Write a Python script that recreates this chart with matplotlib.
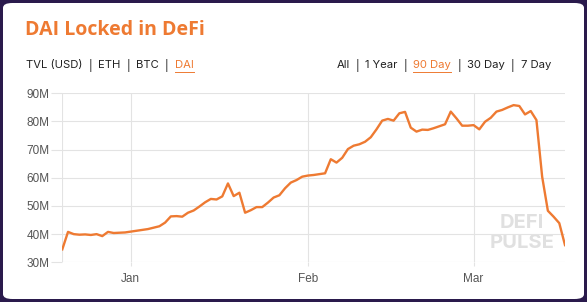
import matplotlib.pyplot as plt
import matplotlib.dates as mdates
from matplotlib.patches import FancyBboxPatch
import pandas as pd

# daily DAI locked (millions), 2019-12-20 .. 2020-03-17
start = '2019-12-20'
dai = [34.6, 40.8, 40.0, 39.8, 39.9, 39.7, 40.0, 39.3, 40.8, 40.4,
       40.5, 40.6, 40.9, 41.2, 41.5, 41.8, 42.3, 42.8, 44.1, 46.3,
       46.4, 46.2, 47.6, 48.4, 49.8, 51.3, 52.5, 52.3, 53.4, 58.0,
       53.5, 54.7, 47.6, 48.5, 49.6, 49.6, 51.2, 53.0, 53.8, 56.3,
       58.3, 59.2, 60.4, 60.8, 61.0, 61.3, 61.6, 66.6, 65.4, 67.1,
       70.2, 71.4, 71.9, 72.8, 74.4, 77.2, 80.3, 80.9, 80.3, 82.9,
       83.4, 77.8, 76.4, 77.1, 77.0, 77.6, 78.3, 79.0, 83.5, 81.1,
       78.5, 78.5, 78.7, 77.2, 79.9, 81.3, 83.5, 84.1, 85.0, 85.8,
       85.5, 82.5, 83.7, 80.5, 60.4, 48.3, 46.2, 43.9, 36.1]
dates = pd.date_range(start, periods=len(dai), freq='D')

y_ticks = [30, 40, 50, 60, 70, 80, 90]
left_links = ['TVL (USD)', 'ETH', 'BTC', 'DAI']
right_links = ['All', '1 Year', '90 Day', '30 Day', '7 Day']

orange = '#ee7a32'
grid_c = '#e3e3e3'
W, H = 587, 302

fig = plt.figure(figsize=(W / 100, H / 100), dpi=100)
fig.patch.set_facecolor('#2a1a4c')
card = FancyBboxPatch((3 / W, 3 / H), 581 / W, 296 / H,
                      boxstyle='round,pad=0,rounding_size=0.016',
                      transform=fig.transFigure, facecolor='white',
                      edgecolor='none', zorder=-5)
fig.patches.append(card)

fig.text(25 / W, 1 - 30 / H, 'DAI Locked in DeFi', color=orange,
         fontsize=14, fontweight='bold', family='Open Sans', va='center')

renderer = fig.canvas.get_renderer()


def link_row(items, x, y, active, ha='left', gap=6):
    # lay out "a | b | c" either left to right or right to left
    parts = []
    for i, s in enumerate(items):
        parts.append(s)
        if i < len(items) - 1:
            parts.append('|')
    if ha == 'right':
        parts = parts[::-1]
    for p in parts:
        t = fig.text(x / W, 1 - y / H, p, fontsize=8.1, family='Inter',
                     color=orange if p == active else '#222222',
                     va='center', ha=ha)
        bb = t.get_window_extent(renderer=renderer)
        if p == active:
            fig.add_artist(plt.Line2D([bb.x0 / W, bb.x1 / W],
                                      [(H - y - 6.5) / H] * 2,
                                      color=orange, lw=0.7))
        x = x + bb.width + gap if ha == 'left' else x - bb.width - gap


link_row(left_links, 26, 65, 'DAI')
link_row(right_links, 551, 65, '90 Day', ha='right')

ax = fig.add_axes([62.3 / W, 1 - 262.3 / H, 502.7 / W, 169 / H])
ax.set_zorder(2)
ax.set_facecolor('none')
ax.plot(dates, dai, color=orange, lw=1.7, solid_joinstyle='round')
ax.set_xlim(dates[0], dates[-1])
ax.set_ylim(30, 90)
ax.set_yticks(y_ticks)
ax.set_yticklabels([f'{v}M' for v in y_ticks])
ax.xaxis.set_major_locator(mdates.MonthLocator())
ax.xaxis.set_major_formatter(mdates.DateFormatter('%b'))
ax.grid(True, color=grid_c, lw=0.8)
ax.set_axisbelow(True)
for s in ax.spines.values():
    s.set_visible(False)
ax.axvline(dates[0], color=grid_c, lw=0.8, zorder=0)
ax.tick_params(axis='y', length=8, color=grid_c, labelsize=8.5,
               labelcolor='#555555', pad=1)
ax.tick_params(axis='x', length=3, color=grid_c, labelsize=8.5,
               labelcolor='#555555', pad=5)
for t in ax.get_xticklabels() + ax.get_yticklabels():
    t.set_family('Liberation Sans')

fig.text(522 / W, 1 - 223 / H, 'DEFI', color='#e0e0e0', fontsize=14.5,
         fontweight='bold', family='Inter', ha='center', va='center', zorder=1)
fig.text(522 / W, 1 - 243 / H, 'PULSE', color='#e0e0e0', fontsize=14.5,
         fontweight='bold', family='Inter', ha='center', va='center', zorder=1)

fig.savefig('out.png', dpi=100, facecolor=fig.get_facecolor())
